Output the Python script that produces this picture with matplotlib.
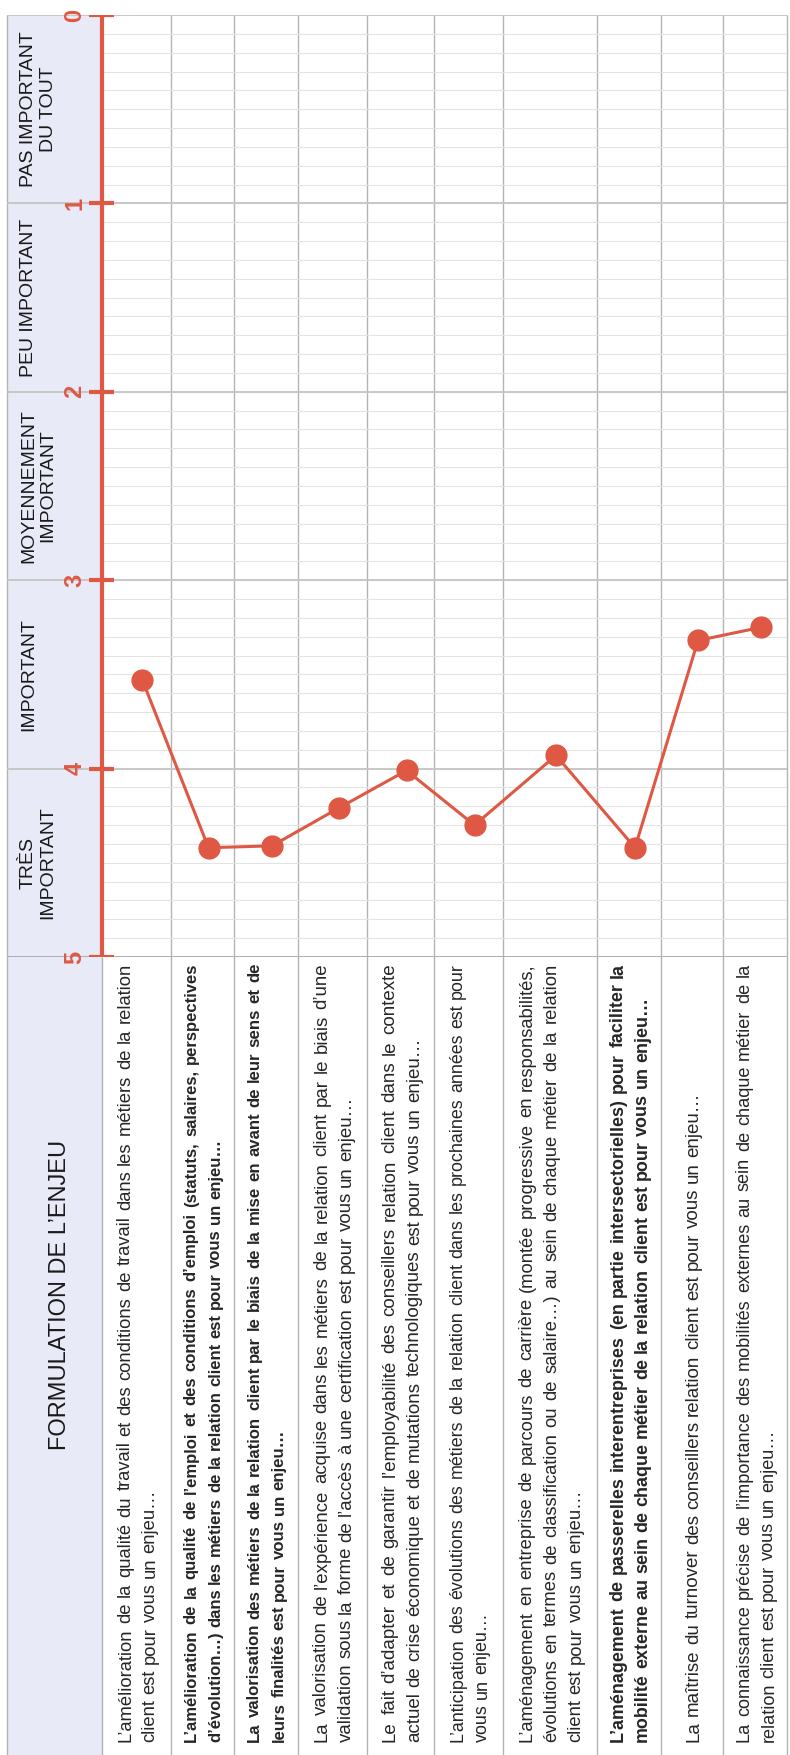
import numpy as np
import matplotlib
matplotlib.use("Agg")
import matplotlib.pyplot as plt
from matplotlib.patches import Rectangle
from matplotlib.font_manager import FontProperties

plt.rcParams['font.family'] = ['Liberation Sans', 'DejaVu Sans']

# mean score per statement (5 = très important, 0 = pas important du tout)
scores = [3.53, 4.42, 4.41, 4.21, 4.01, 4.30, 3.93, 4.42, 3.32, 3.25]
ticks = [0, 1, 2, 3, 4, 5]
levels = ["PAS IMPORTANT\nDU TOUT", "PEU IMPORTANT", "MOYENNEMENT\nIMPORTANT",
          "IMPORTANT", "TRÈS\nIMPORTANT"]
header = "FORMULATION DE L’ENJEU"

# statements, one list of printed lines per row
statements = [
    ["L’amélioration de la qualité du travail et des conditions de travail dans les métiers de la relation",
     "client est pour vous un enjeu…"],
    ["L’amélioration de la qualité de l’emploi et des conditions d’emploi (statuts, salaires, perspectives",
     "d’évolution…) dans les métiers de la relation client est pour vous un enjeu…"],
    ["La valorisation des métiers de la relation client par le biais de la mise en avant de leur sens et de",
     "leurs finalités est pour vous un enjeu…"],
    ["La valorisation de l’expérience acquise dans les métiers de la relation client par le biais d’une",
     "validation sous la forme de l’accès à une certification est pour vous un enjeu…"],
    ["Le fait d’adapter et de garantir l’employabilité des conseillers relation client dans le contexte",
     "actuel de crise économique et de mutations technologiques est pour vous un enjeu…"],
    ["L’anticipation des évolutions des métiers de la relation client dans les prochaines années est pour",
     "vous un enjeu…"],
    ["L’aménagement en entreprise de parcours de carrière (montée progressive en responsabilités,",
     "évolutions en termes de classification ou de salaire…) au sein de chaque métier de la relation",
     "client est pour vous un enjeu…"],
    ["L’aménagement de passerelles interentreprises (en partie intersectorielles) pour faciliter la",
     "mobilité externe au sein de chaque métier de la relation client est pour vous un enjeu…"],
    ["La maîtrise du turnover des conseillers relation client est pour vous un enjeu…"],
    ["La connaissance précise de l’importance des mobilités externes au sein de chaque métier de la",
     "relation client est pour vous un enjeu…"],
]
bold = [False, True, True, False, False, False, False, True, False, False]

# page layout in pixels (the chart is printed sideways)
W, H = 790, 1755
LEFT, AXIS_X, RIGHT = 7, 101.7, 787
TOP, BASE = 15, 957
col_edges = [101.7, 171, 234, 298, 367, 434, 503, 597, 661, 723, 787]
RED = '#DF5844'
TXT = '#262626'

fig = plt.figure(figsize=(W / 100, H / 100), dpi=100)
bg = fig.add_axes([0, 0, 1, 1])
bg.set_xlim(0, W)
bg.set_ylim(H, 0)
bg.axis('off')

chart = fig.add_axes([LEFT / W, 1 - BASE / H, (RIGHT - LEFT) / W, (BASE - TOP) / H])
chart.set_xlim(LEFT, RIGHT)
chart.set_ylim(5, 0)
chart.axis('off')
chart.patch.set_alpha(0)

# lavender header strip
bg.add_patch(Rectangle((LEFT, TOP), AXIS_X - LEFT, H - TOP, fc='#E8EAF7', ec='none', zorder=0))

# grid: light lines every 0.1, darker at each level
chart.hlines(np.arange(0, 5.01, 0.1), AXIS_X, RIGHT, color='#e3e3e3', lw=0.8, zorder=1)
chart.hlines(ticks, LEFT, RIGHT, color='#c4c4c4', lw=1.3, zorder=2)
chart.hlines(5, LEFT, RIGHT, color='#a8a8a8', lw=1.8, zorder=2)

# column lines through chart and table
bg.vlines(col_edges[1:], TOP, H, color='#b3b3b3', lw=1.0, zorder=1)
bg.vlines(LEFT, TOP, H, color='#b3b3b3', lw=1.0, zorder=1)
bg.vlines(AXIS_X, BASE, H, color='#b3b3b3', lw=1.0, zorder=1)

# red value axis with ticks
chart.vlines(AXIS_X, 0, 5, color=RED, lw=3, zorder=5)
chart.hlines(ticks, AXIS_X - 13, AXIS_X + 12, color=RED, lw=3, zorder=5)
for t in ticks:
    chart.text(75, t, str(t), rotation=90, ha='center', va='center',
               color=RED, fontsize=17, fontweight='bold', zorder=5)

# level names between ticks
for i, lab in enumerate(levels):
    chart.text(20, i + 0.5, lab, rotation=90, rotation_mode='anchor', ha='center', va='top',
               multialignment='center', fontsize=14, linespacing=1.2, color='#1a1a1a')
bg.text(60, 1295, header, rotation=90, ha='center', va='center', fontsize=17, color='#1a1a1a')

# the score line
centers = [(a + b) / 2 for a, b in zip(col_edges[:-1], col_edges[1:])]
xs = [c + 6 for c in centers]
chart.plot(xs, scores, color=RED, lw=2.2, marker='o', ms=15, zorder=6, clip_on=False)

# justified statement text, read bottom to top
renderer = fig.canvas.get_renderer()


def text_width(s, fp):
    w, h, d = renderer.get_text_width_height_descent(s, fp, ismath=False)
    return w


FS = 13.5
PITCH = 24.5
Y_START, Y_END = 1742, 963
avail = Y_START - Y_END
for r, lines in enumerate(statements):
    weight = 'bold' if bold[r] else 'normal'
    fs = FS
    # shrink the row a little if a full line would not fit
    fp = FontProperties(family=['Liberation Sans', 'DejaVu Sans'], size=fs, weight=weight)
    widest = max(text_width(l, fp) for l in lines)
    if widest > avail * 0.985:
        fs = fs * avail * 0.985 / widest
        fp = FontProperties(family=['Liberation Sans', 'DejaVu Sans'], size=fs, weight=weight)
    space = text_width('a a', fp) - text_width('aa', fp)
    n = len(lines)
    for i, line in enumerate(lines):
        xc = centers[r] + (i - (n - 1) / 2) * PITCH
        xb = xc + 0.33 * fs * 100 / 72
        words = line.split()
        ws = [text_width(w, fp) for w in words]
        if i == n - 1:
            gap = space
        else:
            gap = (avail - sum(ws)) / (len(words) - 1)
        y = Y_START
        for w, ww in zip(words, ws):
            bg.text(xb, y, w, rotation=90, rotation_mode='anchor', ha='left', va='baseline',
                    fontproperties=fp, color=TXT, zorder=3)
            y -= ww + gap

fig.savefig('out.png', dpi=100, facecolor='white')
